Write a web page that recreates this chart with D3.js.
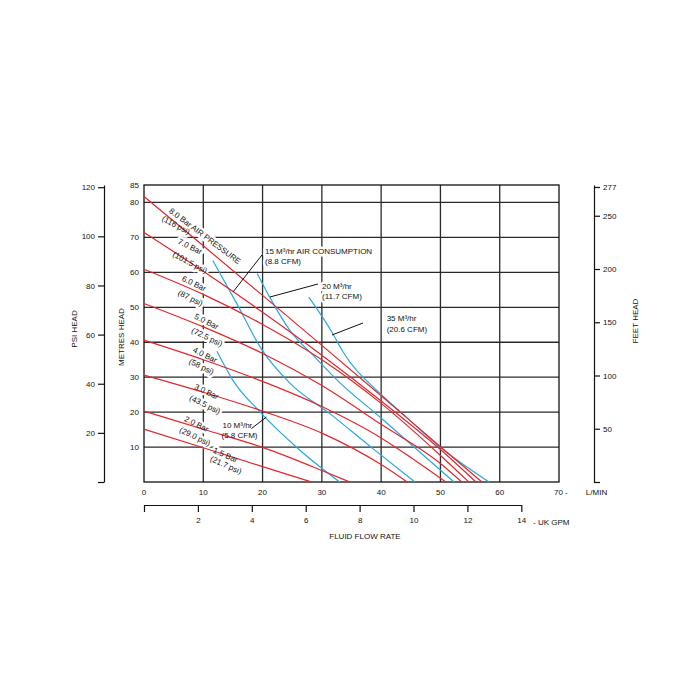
<!DOCTYPE html>
<html><head><meta charset="utf-8">
<script src="https://cdn.jsdelivr.net/npm/d3@7"></script>
<style>body{margin:0;background:#fff}</style>
</head><body>
<svg id="c" width="700" height="700"></svg>
<script>
// ---------- DATA ----------
const flowTicks = [0,10,20,30,40,50,60,70];
const flowTickLabels = ["0","10","20","30","40","50","60","70 -"];
const metreTicks = [10,20,30,40,50,60,70,80,85];
const psiTicks = [0,20,40,60,80,100,120];
const feetTicks = [0,50,100,150,200,250,277];
const gpmTicks = [0,2,4,6,8,10,12,14];

// air pressure curves: [L/min, metres head]
const bar80 = [[0,81.7],[10,67.6],[20,53.4],[30,39.1],[40,24.7],[50,10.1],[57.0,0]];
const bar70 = [[0,71.4],[10,60.3],[20,48.6],[30,36.3],[40,23.2],[50,9.3],[56.0,0]];
const bar60 = [[0,60.9],[10,53.7],[20,45.1],[30,35.0],[40,22.5],[50,7.6],[54.8,0]];
const bar50 = [[0,51.1],[10,44.4],[20,36.8],[30,27.6],[40,16.5],[50,5.3],[53.6,0]];
const bar40 = [[0,40.6],[10,35.0],[20,28.8],[30,21.6],[40,12.6],[45,7.0],[50.9,0]];
const bar30 = [[0,30.6],[10,25.7],[20,20.3],[30,14.0],[40,5.0],[44.4,0]];
const bar20 = [[0,20.3],[10,15.1],[20,9.9],[30,3.3],[34.7,0]];
const bar15 = [[0,15.1],[10,9.8],[20,4.4],[28.3,0]];

// air consumption curves: [L/min, metres head]
const air10 = [[12.3,37.4],[15.0,29.1],[19.6,20.0],[26.3,9.1],[33.0,0]];
const air15 = [[11.6,63.4],[15.7,50.9],[19.9,37.8],[24.6,28.3],[31.4,19.5],[38.5,9.7],[45.7,0]];
const air20 = [[19.1,59.7],[21.2,52.9],[24.6,43.4],[28.5,36.3],[33.1,28.3],[40.0,18.3],[46.5,8.6],[52.3,0]];
const air35 = [[27.8,52.9],[31.9,42.3],[33.4,37.7],[40.1,24.9],[43.5,19.7],[49.9,10.0],[58.2,0]];

const pressureSeries = [bar80,bar70,bar60,bar50,bar40,bar30,bar20,bar15];
const airSeries = [air10,air15,air20,air35];

const pressureLabels = ["8.0 Bar AIR PRESSURE","(116 psi)","7.0 Bar","(101.5 psi)","6.0 Bar","(87 psi)",
  "5.0 Bar","(72.5 psi)","4.0 Bar","(58 psi)","3.0 Bar","(43.5 psi)","2.0 Bar","(29.0 psi)","1.5 Bar","(21.7 psi)"];
const airLabels = [["10 M³/hr","(5.8 CFM)"],["15 M³/hr AIR CONSUMPTION","(8.8 CFM)"],
  ["20 M³/hr","(11.7 CFM)"],["35 M³/hr","(20.6 CFM)"]];

// ---------- LAYOUT (annotation placement, in data units) ----------
const pressureLabelPos = [[10.29,70.41,37],[5.40,73.55,28],[7.76,67.40,26],[7.76,62.82,28],[8.43,56.81,26],[7.84,52.66,26],
  [10.54,45.94,26],[10.63,41.50,26],[10.29,36.35,26],[9.70,33.06,26],[10.54,25.90,26],[10.29,22.18,26],
  [8.85,16.60,26],[8.60,13.02,26],[13.75,7.73,24],[13.83,4.87,24]];
const airLabelPos = [[13.24,15.45,12.45],[20.41,65.25,62.25],[30.02,55.24,52.38],[40.93,46.08,43.07]];
const airPointers = [[[18.13,15.31],[20.66,18.60]],[[15.01,54.38],[19.90,64.97]],[[21.25,52.95],[29.35,56.67]],[[31.71,42.07],[36.94,45.51]]];

// ---------- DRAW ----------
const FONT = "'Liberation Sans', Arial, Helvetica, sans-serif";
const RED = "#e2262c", CYAN = "#27a9de", GRID = "#2a2a2a";
const svg = d3.select("#c").attr("font-family", FONT);

const x = d3.scaleLinear().domain([0,70]).range([144,559]);
const y = d3.scaleLinear().domain([0,85]).range([482,185]);
const yPsi = d3.scaleLinear().domain([0,85*1.4223]).range([482,185]);
const yFt = d3.scaleLinear().domain([0,85*3.2808]).range([482,185]);
const xGpm = d3.scaleLinear().domain([0,14]).range([144, x(14*4.546)]);

// grid
const grid = svg.append("g").attr("stroke", GRID).attr("stroke-width", 1.3);
grid.selectAll("line.v").data(flowTicks.filter(d => d > 0 && d < 70)).join("line").attr("class","v")
  .attr("x1", d => x(d)).attr("x2", d => x(d)).attr("y1", y(0)).attr("y2", y(85));
grid.selectAll("line.h").data(metreTicks.filter(d => d < 85)).join("line").attr("class","h")
  .attr("x1", x(0)).attr("x2", x(70)).attr("y1", d => y(d)).attr("y2", d => y(d));

// label halos (break gridlines behind text)
const halo = svg.append("g").attr("fill","#fff").attr("stroke","#fff").attr("stroke-width",5)
  .attr("stroke-linejoin","round").attr("font-size",8);
function pLabel(g, i){
  const p = pressureLabelPos[i];
  g.append("text").attr("text-anchor","middle").attr("dy","0.35em")
   .attr("transform", `translate(${x(p[0])},${y(p[1])}) rotate(${p[2]})`).text(pressureLabels[i]);
}
pressureLabels.forEach((t,i) => pLabel(halo, i));
function aLabel(g, i){
  const p = airLabelPos[i];
  g.append("text").attr("x", x(p[0])).attr("y", y(p[1])).text(airLabels[i][0]);
  g.append("text").attr("x", x(p[0]) - (i===0?1:0)).attr("y", y(p[2])).text(airLabels[i][1]);
}
airLabels.forEach((t,i) => aLabel(halo, i));

// border
svg.append("rect").attr("x", x(0)).attr("y", y(85)).attr("width", x(70)-x(0)).attr("height", y(0)-y(85))
  .attr("fill","none").attr("stroke","#111").attr("stroke-width",1.3);

// curves
const line = d3.line().x(d => x(d[0])).y(d => y(d[1])).curve(d3.curveMonotoneX);
svg.append("g").selectAll("path").data(airSeries).join("path")
  .attr("d", line).attr("fill","none").attr("stroke", CYAN).attr("stroke-width",1.2);
svg.append("g").selectAll("path").data(pressureSeries).join("path")
  .attr("d", line).attr("fill","none").attr("stroke", RED).attr("stroke-width",1.2);

// pointers
svg.append("g").selectAll("line").data(airPointers).join("line")
  .attr("x1", d => x(d[0][0])).attr("y1", d => y(d[0][1]))
  .attr("x2", d => x(d[1][0])).attr("y2", d => y(d[1][1]))
  .attr("stroke","#111").attr("stroke-width",1);

// label text
const txt = svg.append("g").attr("fill","#111").attr("font-size",8);
pressureLabels.forEach((t,i) => pLabel(txt, i));
airLabels.forEach((t,i) => aLabel(txt, i));

// metres labels
svg.append("g").attr("font-size",8).attr("fill","#111").selectAll("text").data(metreTicks).join("text")
  .attr("x", 139).attr("y", d => y(d)).attr("dy","0.35em").attr("text-anchor","end").text(d => d);

// flow labels
svg.append("g").attr("font-size",8).attr("fill","#111").selectAll("text").data(flowTicks).join("text")
  .attr("x", (d,i) => i === flowTicks.length-1 ? x(d) - 5 : x(d))
  .attr("y", 495).attr("text-anchor", (d,i) => i === flowTicks.length-1 ? "start" : "middle")
  .text((d,i) => flowTickLabels[i]);
svg.append("text").attr("x", 596.5).attr("y", 495).attr("text-anchor","middle").attr("font-size",8).attr("fill","#111").text("L/MIN");

// PSI axis
const gP = svg.append("g").attr("transform","translate(104,0)")
  .call(d3.axisLeft(yPsi).tickValues(psiTicks).tickSize(6).tickSizeOuter(0).tickFormat(d => d === 0 ? "" : d));
// Feet axis
const gF = svg.append("g").attr("transform","translate(594,0)")
  .call(d3.axisRight(yFt).tickValues(feetTicks).tickSize(6).tickSizeOuter(0).tickFormat(d => d === 0 ? "" : d));
// GPM axis
const gG = svg.append("g").attr("transform","translate(0,505)")
  .call(d3.axisBottom(xGpm).tickValues(gpmTicks).tickSize(7).tickPadding(5).tickSizeOuter(0).tickFormat(d => d === 0 ? "" : d));
[gP,gF,gG].forEach(g => {
  g.attr("font-family", FONT).attr("font-size", 8);
  g.selectAll("path,line").attr("stroke","#111").attr("stroke-width",1.2);
  g.selectAll("text").attr("fill","#111");
});

svg.append("text").attr("x", 533).attr("y", 525).attr("font-size",8).attr("fill","#111").text("- UK GPM");
svg.append("text").attr("x", 365).attr("y", 539).attr("text-anchor","middle").attr("font-size",8).attr("fill","#111").text("FLUID FLOW RATE");

function vLabel(t, cx, cy){
  svg.append("text").attr("transform", `translate(${cx},${cy}) rotate(-90)`).attr("text-anchor","middle")
    .attr("dy","0.35em").attr("font-size",8).attr("fill","#111").text(t);
}
vLabel("PSI HEAD", 74, 329);
vLabel("METRES HEAD", 121, 337);
vLabel("FEET HEAD", 635, 321);
</script>
</body></html>
